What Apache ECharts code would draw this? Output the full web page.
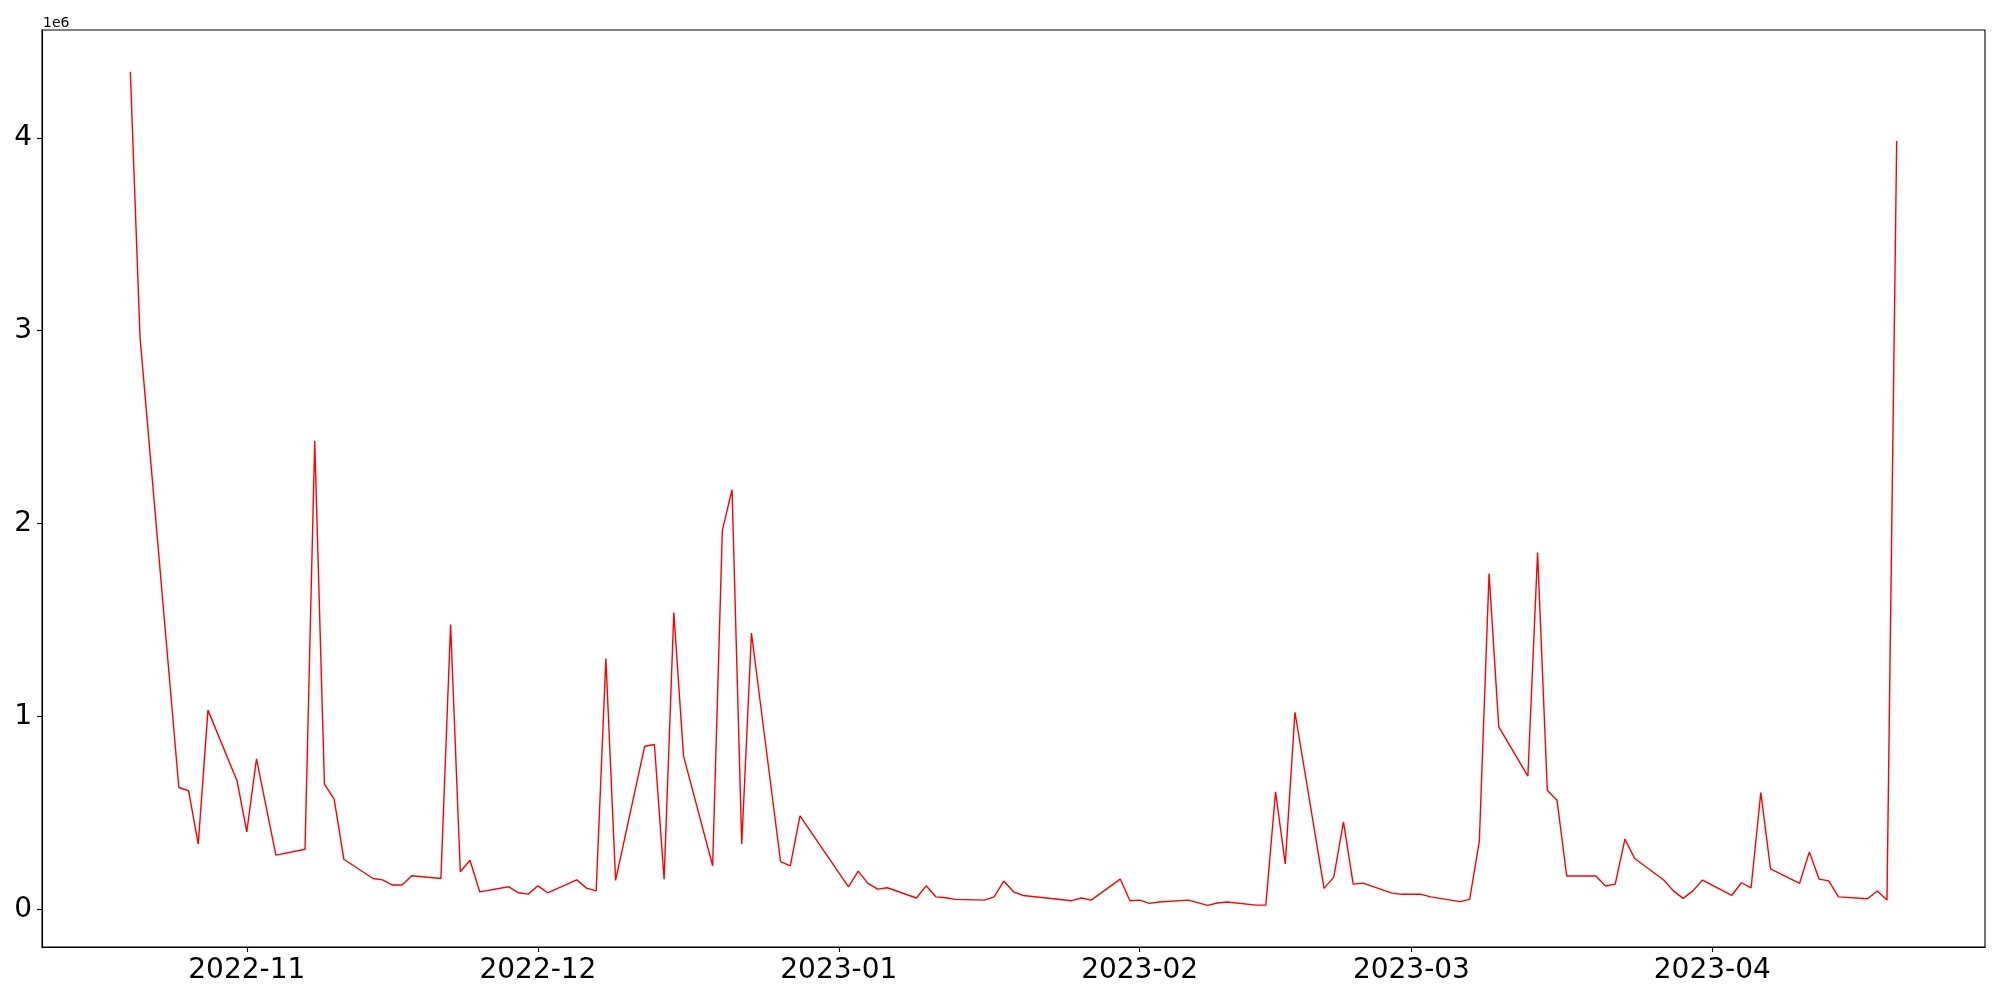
<!DOCTYPE html>
<html>
<head>
<meta charset="utf-8">
<script src="https://cdn.jsdelivr.net/npm/echarts@6/dist/echarts.min.js"></script>
<style>
html,body{margin:0;padding:0;background:#fff;}
#chart{width:2000px;height:1000px;}
</style>
</head>
<body>
<div id="chart"></div>
<script>
// Dates of observations
const dates = [
 '2022-10-20','2022-10-21','2022-10-25','2022-10-26','2022-10-27','2022-10-28','2022-10-31',
 '2022-11-01','2022-11-02','2022-11-04','2022-11-07','2022-11-08','2022-11-09','2022-11-10','2022-11-11',
 '2022-11-14','2022-11-15','2022-11-16','2022-11-17','2022-11-18',
 '2022-11-21','2022-11-22','2022-11-23','2022-11-24','2022-11-25',
 '2022-11-28','2022-11-29','2022-11-30','2022-12-01','2022-12-02',
 '2022-12-05','2022-12-06','2022-12-07','2022-12-08','2022-12-09',
 '2022-12-12','2022-12-13','2022-12-14','2022-12-15','2022-12-16',
 '2022-12-19','2022-12-20','2022-12-21','2022-12-22','2022-12-23',
 '2022-12-26','2022-12-27','2022-12-28',
 '2023-01-02','2023-01-03','2023-01-04','2023-01-05','2023-01-06',
 '2023-01-09','2023-01-10','2023-01-11','2023-01-12','2023-01-13',
 '2023-01-16','2023-01-17','2023-01-18','2023-01-19','2023-01-20',
 '2023-01-25','2023-01-26','2023-01-27',
 '2023-01-30','2023-01-31','2023-02-01','2023-02-02','2023-02-03',
 '2023-02-06','2023-02-08','2023-02-09','2023-02-10',
 '2023-02-13','2023-02-14','2023-02-15','2023-02-16','2023-02-17',
 '2023-02-20','2023-02-21','2023-02-22','2023-02-23','2023-02-24',
 '2023-02-27','2023-02-28','2023-03-02','2023-03-03',
 '2023-03-06','2023-03-07','2023-03-08','2023-03-09','2023-03-10',
 '2023-03-13','2023-03-14','2023-03-15','2023-03-16','2023-03-17',
 '2023-03-20','2023-03-21','2023-03-22','2023-03-23','2023-03-24',
 '2023-03-27','2023-03-28','2023-03-29','2023-03-30','2023-03-31',
 '2023-04-03','2023-04-04','2023-04-05','2023-04-06','2023-04-07',
 '2023-04-10','2023-04-11','2023-04-12','2023-04-13','2023-04-14',
 '2023-04-17','2023-04-18','2023-04-19','2023-04-20'
];
// Values (in units of 1e6)
const valuesM = [
 4.343,2.967,0.632,0.615,0.338,1.033,0.666,
 0.402,0.780,0.281,0.312,2.428,0.649,0.571,0.260,
 0.160,0.153,0.126,0.126,0.174,
 0.160,1.477,0.195,0.255,0.091,
 0.117,0.086,0.079,0.122,0.086,
 0.153,0.110,0.096,1.300,0.150,
 0.846,0.855,0.155,1.539,0.796,
 0.226,1.965,2.176,0.338,1.433,
 0.247,0.226,0.485,
 0.117,0.198,0.135,0.105,0.112,
 0.059,0.122,0.065,0.060,0.052,
 0.048,0.065,0.147,0.091,0.072,
 0.045,0.059,0.048,
 0.157,0.045,0.048,0.031,0.038,
 0.048,0.021,0.033,0.038,
 0.022,0.022,0.609,0.236,1.022,
 0.109,0.167,0.454,0.131,0.136,
 0.084,0.078,0.078,0.065,
 0.040,0.052,0.354,1.741,0.946,
 0.691,1.850,0.618,0.566,0.173,
 0.173,0.121,0.131,0.364,0.264,
 0.152,0.096,0.057,0.096,0.152,
 0.072,0.138,0.112,0.606,0.210,
 0.135,0.298,0.157,0.148,0.065,
 0.055,0.095,0.048,3.984
];
const xTickLabels = ['2022-11','2022-12','2023-01','2023-02','2023-03','2023-04'];
const yTickLabels = [0,1,2,3,4];
const yScale = 1e6;

function parseDay(s){ const p=s.split('-').map(Number); return new Date(p[0],p[1]-1,p[2]||1).getTime(); }
const xs = dates.map(parseDay);
const ys = valuesM.map(v=>v*yScale);
const seriesData = xs.map((x,i)=>[x, ys[i]]);

const xMinD = Math.min(...xs), xMaxD = Math.max(...xs);
const yMinD = Math.min(...ys), yMaxD = Math.max(...ys);
const xPad = (xMaxD-xMinD)*0.05, yPad = (yMaxD-yMinD)*0.05;

const xTickVals = xTickLabels.map(parseDay);
const yTickVals = yTickLabels.map(v=>v*yScale);

const font = 'DejaVu Sans';
const chart = echarts.init(document.getElementById('chart'), null, {renderer:'canvas'});
chart.setOption({
  animation:false,
  backgroundColor:'#fff',
  grid:{left:42,right:15,top:30,bottom:53,show:true,borderColor:'#000',borderWidth:1.1,backgroundColor:'transparent'},
  xAxis:{
    type:'value', min:xMinD-xPad, max:xMaxD+xPad, scale:true,
    axisLine:{show:true,onZero:false,lineStyle:{color:'#000',width:1.1}},
    axisTick:{show:true,length:5,lineStyle:{color:'#000',width:1.1},customValues:xTickVals},
    axisLabel:{show:true,margin:10,fontSize:28,fontFamily:font,color:'#000',customValues:xTickVals,
      formatter:function(v){const d=new Date(v);const m=d.getMonth()+1;return d.getFullYear()+'-'+(m<10?'0'+m:m);} },
    splitLine:{show:false}
  },
  yAxis:{
    type:'value', min:yMinD-yPad, max:yMaxD+yPad,
    axisLine:{show:true,lineStyle:{color:'#000',width:1.1}},
    axisTick:{show:true,length:5,lineStyle:{color:'#000',width:1.1},customValues:yTickVals},
    axisLabel:{show:true,margin:10,fontSize:28,fontFamily:font,color:'#000',customValues:yTickVals,
      formatter:function(v){return String(Math.round(v/yScale));} },
    splitLine:{show:false}
  },
  graphic:[{type:'text',left:43,top:16,style:{text:'1e6',font:'14px "DejaVu Sans"',fill:'#000'}}],
  series:[{type:'line',data:seriesData,showSymbol:false,symbol:'none',lineStyle:{color:'#ff0000',width:1.4},itemStyle:{color:'#ff0000'}}]
});
</script>
</body>
</html>
